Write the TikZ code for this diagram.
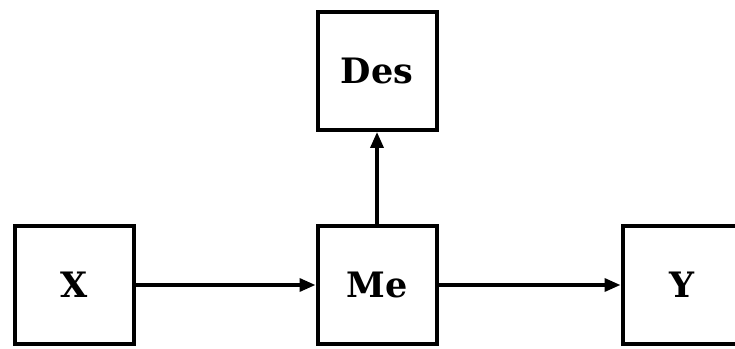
\documentclass[tikz,border=0pt]{standalone}
\usepackage{fontspec}
\setmainfont{DejaVu Serif}
\usetikzlibrary{arrows.meta, positioning}
\tikzset{
  %% ---- boxes ----
  varbox/.style = {rectangle, draw=black, line width=4pt,
                   fill=white, minimum width=119pt, minimum height=118pt,
                   align=center, font=\fontsize{35}{40}\selectfont\bfseries},
  %% ---- arrows ----
  arrow/.style  = {-{Triangle[length=16pt, width=13pt]}, line width=3.5pt, color=black},
}
\begin{document}
\begin{tikzpicture}[x=1pt, y=1pt]
  \useasboundingbox (0,0) rectangle (735,348);

  \node[varbox] (x) at (74,63) {X};
  \node[varbox, right=180pt of x] (me) {Me};
  \node[varbox, right=182pt of me] (y) {Y};
  \node[varbox, above=92pt of me] (des) {Des};

  \draw[arrow] (x) -- (me);
  \draw[arrow] (me) -- (y);
  \draw[arrow] (me) -- (des);

\end{tikzpicture}
\end{document}
